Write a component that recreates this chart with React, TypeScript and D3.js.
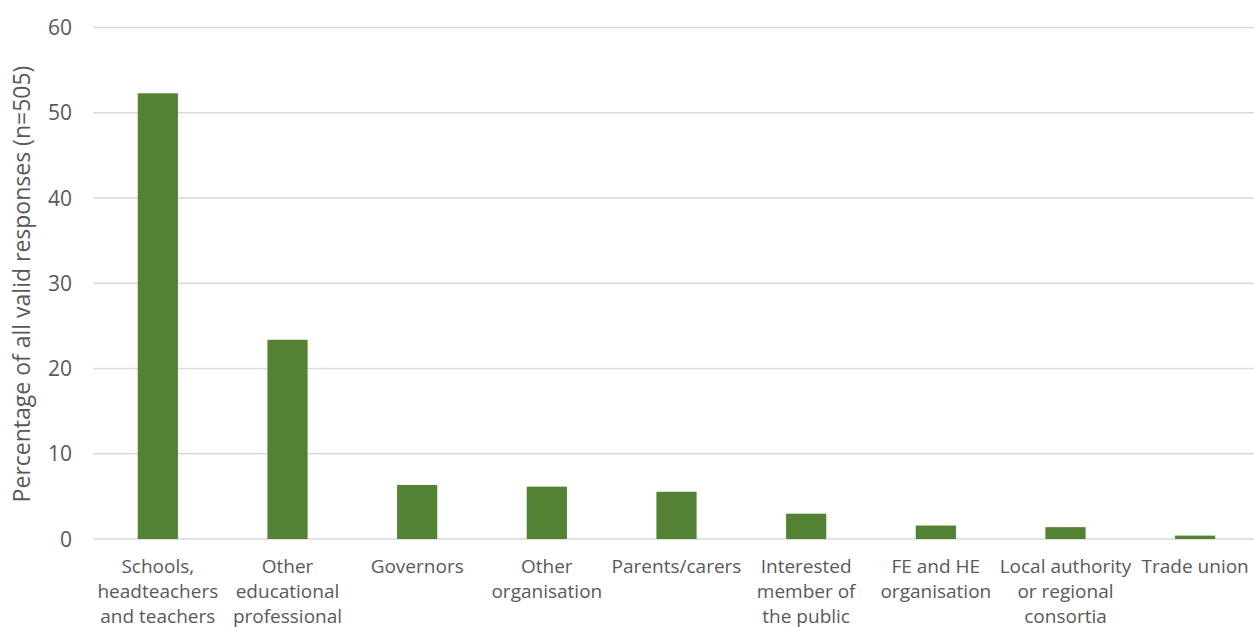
import React from "react";
import * as d3 from "d3";

const categories: string[][] = [
  ["Schools,", "headteachers", "and teachers"],
  ["Other", "educational", "professional"],
  ["Governors"],
  ["Other", "organisation"],
  ["Parents/carers"],
  ["Interested", "member of", "the public"],
  ["FE and HE", "organisation"],
  ["Local authority", "or regional", "consortia"],
  ["Trade union"],
];
const values: number[] = [52.28, 23.37, 6.34, 6.14, 5.54, 2.97, 1.58, 1.39, 0.4];
const yTicks: number[] = [0, 10, 20, 30, 40, 50, 60];
const yTitle = "Percentage of all valid responses (n=505)";

const W = 1254;
const H = 627;
const FONT = "'Open Sans', sans-serif";

export default function App() {
  const ids = categories.map((_, i) => String(i));
  const x = d3.scaleBand<string>().domain(ids).range([93, 1260]).paddingInner(0.69).paddingOuter(0.345);
  const y = d3.scaleLinear().domain([0, 60]).range([539, 27.5]);
  return (
    <svg width={W} height={H} style={{ position: "absolute", left: 0, top: 0, background: "#fff" }} fontFamily={FONT}>
      {yTicks.map((t) => (
        <g key={t}>
          <line x1={93} x2={1254} y1={y(t)} y2={y(t)} stroke="#d9d9d9" strokeWidth={1.5} />
          <text x={72} y={y(t)} dy="0.36em" textAnchor="end" fontSize={21} fill="#595959">
            {t}
          </text>
        </g>
      ))}
      {values.map((v, i) => (
        <rect key={i} x={x(ids[i])} y={y(v)} width={x.bandwidth()} height={y(0) - y(v)} fill="#548235" />
      ))}
      {categories.map((lines, i) => (
        <text key={i} textAnchor="middle" fontSize={19} fill="#595959">
          {lines.map((l, j) => (
            <tspan key={j} x={(x(ids[i]) as number) + x.bandwidth() / 2} y={573 + j * 25}>
              {l}
            </tspan>
          ))}
        </text>
      ))}
      <text transform={`translate(30,284) rotate(-90)`} textAnchor="middle" fontSize={23} fill="#595959">
        {yTitle}
      </text>
    </svg>
  );
}
